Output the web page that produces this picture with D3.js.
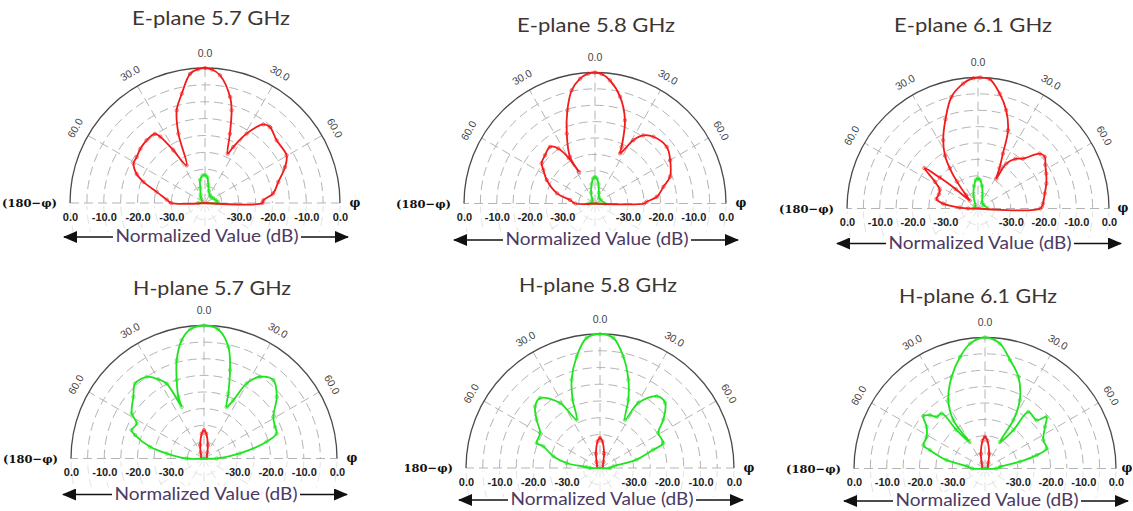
<!DOCTYPE html>
<html>
<head>
<meta charset="utf-8">
<script src="https://cdn.jsdelivr.net/npm/d3@7"></script>
<style>
  body { margin: 0; background: #fff; }
  svg { display: block; }
  .title { font-family: Lato, "Open Sans", sans-serif; font-size: 19px; fill: #3d3533; }
  .xlabel { font-family: Lato, "Open Sans", sans-serif; font-size: 17px; fill: #4c3a63; }
  .grid { fill: none; stroke: #b4b4b4; stroke-width: 1; stroke-dasharray: 9 5; }
  .grid-low { fill: none; stroke: #e2e2e2; stroke-width: 1; stroke-dasharray: 9 5; }
  .outer { fill: none; stroke: #4a4a4a; stroke-width: 1.3; }
  .angle-label { font-family: "Liberation Sans", Arial, sans-serif; font-size: 10.5px; fill: #444; }
  .db-axis text { font-family: "Liberation Sans", Arial, sans-serif; font-size: 11px; font-weight: bold; fill: #222; }
  .side { font-family: "DejaVu Serif", serif; font-size: 11.5px; font-weight: bold; fill: #111; }
</style>
</head>
<body>
<svg id="chart" width="1133" height="511"></svg>
<script>
/** Chart values. Each series is [angle (deg), level (dB)] in path order. */
const TITLES = ["E-plane 5.7 GHz", "E-plane 5.8 GHz", "E-plane 6.1 GHz",
                "H-plane 5.7 GHz", "H-plane 5.8 GHz", "H-plane 6.1 GHz"];
const ANGLE_TICKS = [-60, -30, 0, 30, 60];
const SPOKES = [-90, -60, -30, 0, 30, 60, 90];
const DB_TICKS = [0, -10, -20, -30];
const RINGS = [-35, -30, -25, -20, -15, -10, -5];
const DB_MIN = -40;

const E57_CO = [[-90,-30],[-85,-28.6],[-77,-25.3],[-71,-20.7],[-67,-18],[-61,-15.8],[-56,-15.6],[-50,-15],[-43,-14.6],[-36,-14.7],[-34,-16.3],[-31,-21.8],[-26,-27.6],[-21,-18],[-17,-11.3],[-12,-6.9],[-6.6,-1.5],[-3,-0.3],[0,0],[3,-0.4],[6.7,-1.9],[13.3,-7.7],[16,-11.4],[19.8,-18.2],[24.7,-23.9],[26.8,-21.4],[31,-16],[36.6,-11],[40.5,-10.4],[48.8,-11.8],[59.7,-12],[65.8,-14],[74,-17.4],[82,-19.6],[87.4,-22.7],[90,-23]];
const E57_X = [[-90,-38],[-75,-39],[-55,-39],[-40,-38],[-28,-37.2],[-18,-35.5],[-12,-33],[-5,-31.8],[0,-31.7],[5,-32.3],[10,-34.5],[18,-36.3],[32,-37.2],[45,-37.5],[58,-37.2],[72,-36.8],[84,-36.2],[90,-36.5]];

const E58_CO = [[-90,-34],[-82,-32.3],[-75,-28],[-64,-23.6],[-57,-21.2],[-53,-19.6],[-46,-18.8],[-38.5,-17.9],[-33.7,-19.8],[-30,-24],[-26.8,-29.2],[-28.2,-23.8],[-22,-17],[-16.5,-10.3],[-11.6,-4.7],[-6.8,-1.6],[-3,-0.3],[0,0],[3,-0.4],[6.9,-2.1],[13.2,-6.5],[19.8,-13],[25.2,-20.9],[26.6,-22.9],[31.2,-17.4],[35.3,-14.5],[41.2,-12.9],[51.7,-12.1],[60,-13.5],[70.4,-15.7],[76.3,-18.5],[83.8,-21],[88,-24.2],[90,-25]];
const E58_X = [[-90,-38],[-60,-39],[-35,-38.5],[-20,-36.5],[-10,-34],[-4,-32.3],[0,-31.9],[4,-32.3],[10,-34],[20,-36.5],[35,-37.8],[60,-38],[90,-37]];

const E61_CO = [[-90,-37],[-87,-34.4],[-82,-29.2],[-77,-27],[-70,-27.3],[-64,-27],[-58,-24.5],[-53,-19.5],[-51,-25],[-49,-31],[-46,-36.5],[-42,-34.5],[-38,-29.5],[-35,-25],[-32,-21],[-27,-16.6],[-20,-11],[-13.4,-5],[-6.8,-1.6],[-2,-0.2],[1,0],[5.1,-0.3],[10.7,-4.3],[16,-8.8],[21,-14.4],[24.4,-21.6],[28,-26],[31.4,-29.3],[32.2,-23.8],[37,-21],[42,-19.5],[48.3,-14.8],[52.2,-14.2],[57,-15.5],[62.9,-16.6],[70,-17.8],[77.3,-19.1],[85.6,-20.1],[90,-21]];
const E61_X = [[-90,-38.5],[-60,-39],[-35,-38.5],[-20,-36],[-10,-33],[-4,-31.2],[0,-30.8],[4,-31.2],[10,-33],[20,-36],[35,-37.8],[60,-38],[90,-37]];

const H57_CO = [[-90,-34.8],[-82.4,-28.7],[-77.8,-23.4],[-71.3,-18.1],[-68.6,-16.6],[-62.5,-17.2],[-58.1,-14.4],[-48.9,-11.8],[-42.6,-9.4],[-35,-10],[-30,-12.5],[-26.5,-14.8],[-23.4,-23.1],[-22.6,-19.9],[-19.2,-15],[-15.5,-9.3],[-10.7,-3.8],[-6,-0.9],[0,0],[6.2,-0.9],[12.3,-5.6],[16.4,-12.3],[20.5,-19.1],[23.7,-23.1],[26.7,-20.4],[29.6,-14],[34.4,-10.2],[41.5,-8.5],[49.7,-11.3],[59,-15.7],[66,-16.6],[71,-16.9],[75,-20.5],[82,-29.1],[90,-36.2]];
const H57_X = [[-90,-39],[-60,-39],[-30,-38],[-16,-35.8],[-5,-32.5],[0,-31.5],[5,-32.5],[16,-35.8],[30,-38],[60,-39],[90,-39]];

const H58_CO = [[-90,-37],[-86,-36],[-81.5,-29.9],[-76,-25.7],[-69.1,-21.9],[-68.5,-19.7],[-59.7,-19.3],[-52.7,-16.2],[-46.5,-13.3],[-40.6,-12.5],[-31.6,-17.2],[-25.8,-24],[-21.8,-18],[-17.8,-12.3],[-11.8,-6],[-5.9,-1],[0,0],[5.9,-1],[11.8,-6],[17.8,-12.3],[22.5,-17.9],[27.4,-23.8],[30.5,-17.5],[38.3,-12.7],[45,-12.5],[52.6,-16.2],[59,-19.7],[68.5,-19.7],[71,-23.2],[77.2,-28.8],[83,-36],[90,-37]];
const H58_X = [[-90,-39],[-60,-39],[-30,-38],[-16,-35.6],[-5,-32],[0,-31],[5,-32],[16,-35.6],[30,-38],[60,-39],[90,-39]];

const H61_CO = [[-90,-36],[-82.7,-34.4],[-77.7,-28],[-71.6,-22.3],[-69.3,-19.9],[-61.5,-19.7],[-54.5,-18.1],[-49.7,-15.3],[-45.9,-16.6],[-43,-18.4],[-38.2,-18.6],[-36.5,-25.4],[-30.4,-30.6],[-33.2,-22.4],[-28.2,-16.3],[-20,-10.2],[-12.6,-5.1],[-6.8,-1.6],[0,0],[6.8,-1.6],[13,-6],[20,-10.2],[27,-16.6],[30.4,-22.9],[29.4,-30.7],[36.5,-25.4],[37.4,-18.2],[46.9,-18.4],[50,-15.5],[55.2,-17.7],[64,-20.2],[72,-20.2],[75.5,-23.7],[79,-29.1],[84,-35.4],[90,-36.5]];
const H61_X = [[-90,-39],[-60,-39],[-30,-38],[-16,-35.4],[-5,-31.5],[0,-30.3],[5,-31.5],[16,-35.4],[30,-38],[60,-39],[90,-39]];

const RED = "#f21a1a";
const GREEN = "#1ee31e";

// [co-pol, cross-pol] per panel, with their colours
const SERIES = [
    [{d: E57_CO, c: RED}, {d: E57_X, c: GREEN}],
    [{d: E58_CO, c: RED}, {d: E58_X, c: GREEN}],
    [{d: E61_CO, c: RED}, {d: E61_X, c: GREEN}],
    [{d: H57_CO, c: GREEN}, {d: H57_X, c: RED}],
    [{d: H58_CO, c: GREEN}, {d: H58_X, c: RED}],
    [{d: H61_CO, c: GREEN}, {d: H61_X, c: RED}],
];

/** Layout of the six pasted plots (ay = arrow offset below the baseline, px = phi label offset). */
const LAYOUT = [
    {cx: 205, cy: 203,   R: 135, tx: 211, ty: 25,    ay: 34,   px: 15},
    {cx: 595, cy: 203.5, R: 131, tx: 596, ty: 31.5,  ay: 36.5, px: 15},
    {cx: 978, cy: 208.5, R: 131, tx: 973, ty: 31.5,  ay: 35,   px: 14},
    {cx: 204, cy: 458.5, R: 133, tx: 212, ty: 295,   ay: 36,   px: 15},
    {cx: 600, cy: 468,   R: 134, tx: 598, ty: 291.5, ay: 32,   px: 15, clipLeft: 405},
    {cx: 985, cy: 468.5, R: 131, tx: 978, ty: 303,   ay: 32.5, px: 11},
];

const RAD = Math.PI / 180;
const svg = d3.select("#chart");

svg.append("rect").attr("width", 1133).attr("height", 511).attr("fill", "#fff");

const defs = svg.append("defs");
defs.append("marker")
    .attr("id", "arrow")
    .attr("markerUnits", "userSpaceOnUse")
    .attr("markerWidth", 14)
    .attr("markerHeight", 12)
    .attr("refX", 13)
    .attr("refY", 6)
    .attr("orient", "auto-start-reverse")
    .append("path")
    .attr("d", "M0,0 L14,6 L0,12 Z")
    .attr("fill", "#111");

function drawPanel(p, i) {
    const r = d3.scaleLinear().domain([DB_MIN, 0]).range([0, p.R]);
    const root = svg.append("g");
    if (p.clipLeft) {
        defs.append("clipPath").attr("id", `clip${i}`)
            .append("rect").attr("x", p.clipLeft).attr("y", 0).attr("width", 1133).attr("height", 511);
        root.attr("clip-path", `url(#clip${i})`);
    }
    const g = root.append("g").attr("transform", `translate(${p.cx},${p.cy})`);

    // faint continuation of the grid below the baseline
    defs.append("clipPath").attr("id", `low${i}`)
        .append("rect").attr("x", -p.R - 4).attr("y", 3).attr("width", 2 * p.R + 8).attr("height", 26);
    const low = g.append("g").attr("clip-path", `url(#low${i})`);
    [0, ...RINGS].forEach(v => {
        low.append("circle").attr("r", r(v)).attr("class", "grid-low");
    });
    [120, 150, 180, 210, 240].forEach(a => {
        low.append("line")
            .attr("x2", p.R * Math.sin(a * RAD)).attr("y2", -p.R * Math.cos(a * RAD))
            .attr("class", "grid-low");
    });

    // dashed rings and spokes
    RINGS.forEach(v => {
        const path = d3.path();
        path.arc(0, 0, r(v), -Math.PI, 0);
        g.append("path").attr("d", path.toString()).attr("class", "grid");
    });
    SPOKES.forEach(a => {
        g.append("line")
            .attr("x2", p.R * Math.sin(a * RAD)).attr("y2", -p.R * Math.cos(a * RAD))
            .attr("class", "grid");
    });
    const outer = d3.path();
    outer.arc(0, 0, r(0), -Math.PI, 0);
    g.append("path").attr("d", outer.toString()).attr("class", "outer");

    // angle labels
    g.selectAll("text.angle-label")
        .data(ANGLE_TICKS)
        .join("text")
        .attr("class", "angle-label")
        .attr("text-anchor", "middle")
        .attr("dominant-baseline", "middle")
        .attr("transform", a => `rotate(${a}) translate(0,${-(p.R + 14)})`)
        .text(a => Math.abs(a).toFixed(1));

    // dB axes along the baseline, mirrored
    const left = d3.scaleLinear().domain([DB_MIN, 0]).range([0, -p.R]);
    const right = d3.scaleLinear().domain([DB_MIN, 0]).range([0, p.R]);
    [left, right].forEach(s => {
        g.append("g")
            .attr("class", "db-axis")
            .call(d3.axisBottom(s).tickValues(DB_TICKS).tickSize(0).tickPadding(10)
                .tickFormat(d => d.toFixed(1)))
            .call(a => a.select(".domain").remove());
    });

    g.append("text").attr("class", "side")
        .attr("x", -p.R - 13).attr("y", 1)
        .attr("text-anchor", "end").attr("dominant-baseline", "middle")
        .text("(180\u2212\u03c6)");
    g.append("text").attr("class", "side")
        .attr("x", p.R + p.px).attr("y", 0)
        .attr("text-anchor", "middle").attr("dominant-baseline", "middle")
        .style("font-size", "12px")
        .text("\u03c6");

    // double arrow with label
    const ay = p.ay;
    g.append("line")
        .attr("x1", -141).attr("x2", 143).attr("y1", ay).attr("y2", ay)
        .attr("stroke", "#111").attr("stroke-width", 1.3)
        .attr("marker-start", "url(#arrow)").attr("marker-end", "url(#arrow)");
    g.append("rect")
        .attr("x", 2 - 94).attr("y", ay - 9).attr("width", 188).attr("height", 16)
        .attr("fill", "#fff");
    g.append("text").attr("class", "xlabel")
        .attr("x", 2).attr("y", ay + 5)
        .attr("text-anchor", "middle")
        .attr("textLength", 183).attr("lengthAdjust", "spacingAndGlyphs")
        .text("Normalized Value (dB)");

    // patterns
    const line = d3.lineRadial()
        .angle(d => d[0] * RAD)
        .radius(d => r(d[1]))
        .curve(d3.curveCatmullRom.alpha(0.5));
    SERIES[i].slice().reverse().forEach(s => {
        const pts = [[-90, DB_MIN], ...s.d, [90, DB_MIN]];
        g.append("path")
            .attr("d", line(pts))
            .attr("fill", "none")
            .attr("stroke", s.c)
            .attr("stroke-width", 1.8)
            .attr("stroke-linejoin", "round");
        g.selectAll(null)
            .data(s.d.filter(d => d[1] > DB_MIN + 1))
            .join("circle")
            .attr("cx", d => r(d[1]) * Math.sin(d[0] * RAD))
            .attr("cy", d => -r(d[1]) * Math.cos(d[0] * RAD))
            .attr("r", 1.7)
            .attr("fill", "none")
            .attr("stroke", s.c)
            .attr("stroke-opacity", 0.6)
            .attr("stroke-width", 1);
    });

    root.append("text").attr("class", "title")
        .attr("x", p.tx).attr("y", p.ty)
        .attr("text-anchor", "middle")
        .attr("textLength", 158).attr("lengthAdjust", "spacingAndGlyphs")
        .text(TITLES[i]);
}

LAYOUT.forEach(drawPanel);
</script>
</body>
</html>
